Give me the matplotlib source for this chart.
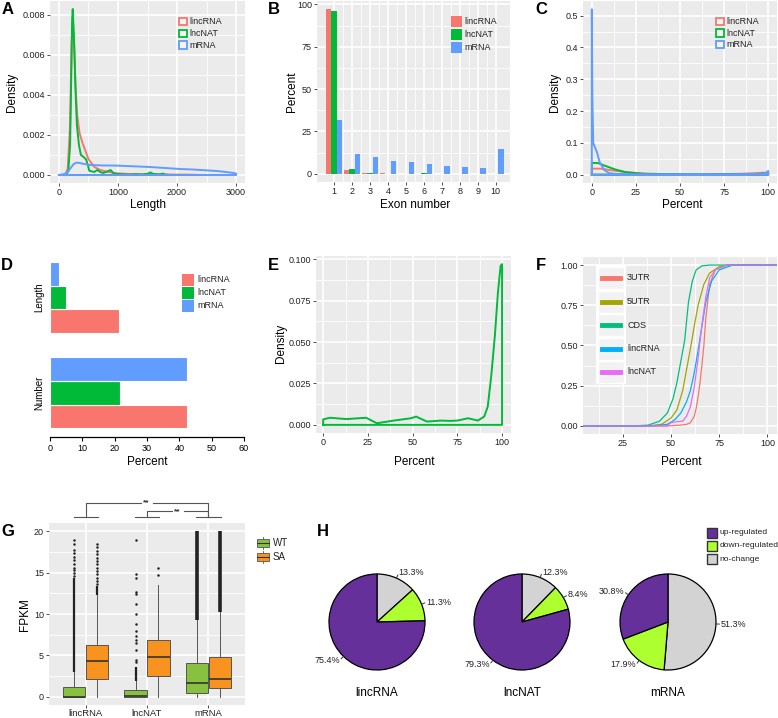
import matplotlib
matplotlib.use('Agg')
import matplotlib.pyplot as plt
import numpy as np
from matplotlib.patches import Rectangle
from matplotlib.lines import Line2D

plt.rcParams['font.family'] = ['Liberation Sans', 'DejaVu Sans']

# ---------------- data ----------------
rna_names = ['lincRNA', 'lncNAT', 'mRNA']
rna_colors = ['#F8766D', '#00BA38', '#619CFF']

# A: length density
a_linc_x = [100, 150, 190, 215, 235, 255, 280, 310, 350, 400, 450, 500, 600, 700, 800, 900, 1000, 1200, 1400, 1600, 1800, 2000, 2200, 2400]
a_linc_y = [0, 0.0003, 0.0025, 0.0065, 0.0079, 0.0068, 0.0045, 0.003, 0.0021, 0.0016, 0.0012, 0.0008, 0.0004, 0.00025, 0.00018, 0.00012, 0.00008, 0.00005, 0.00004, 0.00004, 0.00003, 0.00002, 0.00002, 0]
a_nat_x = [120, 160, 190, 210, 225, 235, 260, 285, 305, 340, 373, 420, 462, 490, 515, 560, 600, 650, 700, 750, 800, 875, 920, 960, 1000, 1100, 1200, 1300, 1400, 1500, 1550, 1600, 1700, 1760, 1800, 1850]
a_nat_y = [0, 0.0002, 0.0015, 0.005, 0.0078, 0.0083, 0.0065, 0.004, 0.0025, 0.0015, 0.001, 0.0009, 0.00077, 0.0005, 0.00021, 0.00018, 0.00015, 0.00025, 0.00015, 0.0001, 0.00015, 0.00025, 0.0001, 0.00005, 0.00005, 0.00003, 0.00002, 0.00004, 0.00002, 0.00006, 0.00013, 0.00005, 0.00003, 0.00007, 0.00002, 0]
a_mrna_x = [0, 100, 150, 200, 250, 300, 350, 400, 525, 700, 977, 1300, 1541, 2050, 2300, 2670, 2800, 2960, 3000]
a_mrna_y = [0, 0.00005, 0.00015, 0.00035, 0.00055, 0.00062, 0.0006, 0.00057, 0.0005, 0.00048, 0.00047, 0.00043, 0.0004, 0.0003, 0.00027, 0.0002, 0.00016, 0.0001, 0.00007]

# B: exon number distribution (percent)
exon_numbers = [1, 2, 3, 4, 5, 6, 7, 8, 9, 10]
b_linc = [97.2, 2.0, 0.7, 0.3, 0.1, 0.05, 0, 0, 0, 0]
b_nat = [96.3, 3.0, 0.3, 0.1, 0, 0.4, 0, 0, 0, 0]
b_mrna = [31.8, 11.7, 9.8, 7.7, 6.8, 5.8, 4.8, 3.8, 3.2, 14.4]

# C: percent density
c_linc_x = [0, 5.3, 10, 19.3, 28.7, 47, 66, 85, 100]
c_linc_y = [0.019, 0.019, 0.015, 0.008, 0.004, 0.001, 0.001, 0.003, 0.007]
c_nat_x = [0, 3.3, 8, 13.6, 19.3, 28.7, 38, 50, 70, 90, 100]
c_nat_y = [0.037, 0.037, 0.027, 0.016, 0.008, 0.003, 0.001, 0.0003, 0.0002, 0.001, 0.005]
c_mrna_x = [0, 0.3, 0.8, 1.7, 2.9, 4.4, 7.2, 10, 15, 20, 30, 50, 80, 95, 99, 100]
c_mrna_y = [0.52, 0.25, 0.1, 0.087, 0.071, 0.04, 0.014, 0.005, 0.002, 0.001, 0.0005, 0.0002, 0.0003, 0.002, 0.006, 0.012]

# D: share of lncRNA (percent)
d_groups = ['Number', 'Length']
d_linc = [42.5, 21.4]
d_nat = [21.8, 4.8]
d_mrna = [42.5, 2.9]

# E: percent density (lncNAT)
e_x = [0, 3.8, 13, 24, 30, 39.5, 49, 52, 58, 66, 71, 75, 81, 86.5, 90, 92, 94, 96, 97.7, 99.2, 100]
e_y = [0.0033, 0.0043, 0.0035, 0.0043, 0.001, 0.0026, 0.004, 0.005, 0.002, 0.0026, 0.0024, 0.0026, 0.004, 0.0026, 0.005, 0.011, 0.03, 0.054, 0.08, 0.096, 0.097]

# F: cumulative distributions
f_names = ['3UTR', '5UTR', 'CDS', 'lincRNA', 'lncNAT']
f_colors = ['#F8766D', '#A3A500', '#00BF7D', '#00B0F6', '#E76BF3']
f_utr3_x = [4, 48, 55, 58, 60, 62, 63, 64, 65, 66, 67, 68, 70, 73, 79, 105]
f_utr3_y = [0, 0, 0.005, 0.01, 0.02, 0.06, 0.11, 0.18, 0.27, 0.38, 0.5, 0.67, 0.88, 0.97, 1, 1]
f_utr5_x = [4, 38, 45, 50, 53, 56, 58, 60, 62, 64, 67, 70, 75, 80, 105]
f_utr5_y = [0, 0, 0.01, 0.05, 0.1, 0.22, 0.35, 0.48, 0.62, 0.75, 0.88, 0.95, 0.99, 1, 1]
f_cds_x = [4, 30, 38, 44, 48, 51, 53, 55, 57, 59, 61, 63, 66, 70, 105]
f_cds_y = [0, 0, 0.005, 0.03, 0.08, 0.17, 0.27, 0.4, 0.53, 0.77, 0.9, 0.97, 0.995, 1, 1]
f_linc_x = [4, 40, 48, 52, 55, 58, 60, 62, 64, 66, 68, 71, 75, 82, 105]
f_linc_y = [0, 0, 0.01, 0.04, 0.08, 0.15, 0.22, 0.33, 0.47, 0.62, 0.77, 0.9, 0.97, 1, 1]
f_nat_x = [4, 48, 50, 52, 56, 58, 60, 62, 64, 66, 68, 70, 73, 79, 105]
f_nat_y = [0, 0, 0.02, 0.025, 0.03, 0.06, 0.12, 0.24, 0.42, 0.63, 0.8, 0.92, 0.97, 1, 1]

# G: FPKM boxplots (WT / SA)
g_cats = ['lincRNA', 'lncNAT', 'mRNA']
g_wt_q1 = [0, 0, 0.5]
g_wt_med = [0.02, 0.05, 1.7]
g_wt_q3 = [1.2, 0.8, 4.05]
g_wt_hi = [3.0, 1.95, 9.3]
g_sa_q1 = [2.2, 2.5, 1.1]
g_sa_med = [4.3, 4.75, 2.2]
g_sa_q3 = [6.3, 6.9, 4.75]
g_sa_hi = [12.3, 13.5, 10.2]
g_wt_fliers = [[14.6, 15.0, 15.3, 15.6, 16.0, 16.5, 16.9, 17.4, 17.7, 18.5, 18.9],
               [4.2, 4.5, 5.7, 6.5, 6.9, 7.4, 7.9, 8.8, 10.0, 11.2, 12.4, 12.7, 14.3, 14.8, 18.9],
               []]
g_sa_fliers = [[13.6, 14.0, 14.4, 14.8, 15.2, 15.6, 16.0, 16.4, 16.8, 17.2, 17.6, 18.1, 18.5],
               [14.7, 15.6],
               []]
g_wt_dense = [(3.0, 14.3), (1.95, 3.6), (9.3, 20.0)]
g_sa_dense = [(12.3, 13.4), None, (10.2, 20.0)]

# H: regulation pies
h_cats = ['no-change', 'down-regulated', 'up-regulated']
h_colors = ['#D3D3D3', '#ADFF2F', '#66309A']
h_linc = [13.3, 11.3, 75.4]
h_nat = [12.3, 8.4, 79.3]
h_mrna = [51.3, 17.9, 30.8]

# ---------------- figure helpers ----------------
W, H = 778, 718
fig = plt.figure(figsize=(W / 100, H / 100), dpi=100)
TXT = '#222222'


def add_ax(l, t, r, b):
    return fig.add_axes([l / W, 1 - b / H, (r - l) / W, (b - t) / H])


def ftext(x, y, s, **kw):
    kw.setdefault('ha', 'center')
    kw.setdefault('va', 'center')
    kw.setdefault('color', 'black')
    fig.text(x / W, 1 - y / H, s, **kw)


def gg(ax, xmaj, xmin, ymaj, ymin):
    ax.set_facecolor('#EBEBEB')
    for s in ax.spines.values():
        s.set_visible(False)
    ax.set_xticks(xmaj)
    ax.set_xticks(xmin, minor=True)
    ax.set_yticks(ymaj)
    ax.set_yticks(ymin, minor=True)
    ax.grid(which='major', color='white', lw=1.2)
    ax.grid(which='minor', color='white', lw=0.6)
    ax.set_axisbelow(True)
    ax.tick_params(which='major', length=2.2, width=0.6, color='#333333',
                   labelsize=6.5, labelcolor=TXT, pad=1.5)
    ax.tick_params(which='minor', length=0)


def key_legend(x, y0, dy, size, tx, labels, colors, style, fs=6.5):
    for i, (lab, c) in enumerate(zip(labels, colors)):
        yc = y0 + i * dy
        if style == 'hollow':
            fc, ec, lw = '#F4F4F4', c, 1.3
        elif style == 'dark':
            fc, ec, lw = c, '#333333', 1.0
        else:
            fc, ec, lw = c, 'none', 0
        fig.patches.append(Rectangle((x / W, 1 - (yc + size / 2) / H), size / W, size / H,
                                     transform=fig.transFigure, facecolor=fc,
                                     edgecolor=ec, lw=lw))
        ftext(tx, yc, lab, ha='left', fontsize=fs, color=TXT)


def outline(ax, x, y, color, lw=1.4):
    xs = np.r_[x[0], x, x[-1], x[0]]
    ys = np.r_[0, y, 0, 0]
    ax.plot(xs, ys, color=color, lw=lw, solid_joinstyle='round')


# ---------------- A ----------------
ax = add_ax(50, 1, 245, 183)
gg(ax, [0, 1000, 2000, 3000], [500, 1500, 2500],
   [0, 0.002, 0.004, 0.006, 0.008], [0.001, 0.003, 0.005, 0.007])
ax.set_yticklabels(['0.000', '0.002', '0.004', '0.006', '0.008'])
outline(ax, a_linc_x, a_linc_y, rna_colors[0])
outline(ax, a_nat_x, a_nat_y, rna_colors[1])
outline(ax, a_mrna_x, a_mrna_y, rna_colors[2])
ax.set_xlim(-150, 3150)
ax.set_ylim(-0.0004, 0.0087)
key_legend(179, 21.7, 11.7, 7.5, 189, rna_names, rna_colors, 'hollow')
ftext(148, 205, 'Length', fontsize=8.5)
ftext(12, 92, 'Density', fontsize=8.5, rotation=90)

# ---------------- B ----------------
ax = add_ax(317, 1, 510, 182)
gg(ax, exon_numbers, [1.5, 2.5, 3.5, 4.5, 5.5, 6.5, 7.5, 8.5, 9.5],
   [0, 25, 50, 75, 100], [12.5, 37.5, 62.5, 87.5])
ex = np.array(exon_numbers)
for vals, off, c in zip([b_linc, b_nat, b_mrna], [-0.3, 0, 0.3], rna_colors):
    ax.bar(ex + off, vals, width=0.3, color=c, zorder=2)
ax.set_xlim(0.05, 10.8)
ax.set_ylim(-4.9, 102)
key_legend(451, 21.7, 12.7, 11, 464, rna_names, rna_colors, 'fill')
ftext(415, 205, 'Exon number', fontsize=8.5)
ftext(292, 92, 'Percent', fontsize=8.5, rotation=90)

# ---------------- C ----------------
ax = add_ax(583, 1, 777, 183)
gg(ax, [0, 25, 50, 75, 100], [12.5, 37.5, 62.5, 87.5],
   [0, 0.1, 0.2, 0.3, 0.4, 0.5], [0.05, 0.15, 0.25, 0.35, 0.45])
ax.set_yticklabels(['0.0', '0.1', '0.2', '0.3', '0.4', '0.5'])
outline(ax, c_linc_x, c_linc_y, rna_colors[0])
outline(ax, c_nat_x, c_nat_y, rna_colors[1])
outline(ax, c_mrna_x, c_mrna_y, rna_colors[2])
ax.set_xlim(-5, 105)
ax.set_ylim(-0.026, 0.546)
key_legend(716, 21.7, 11.4, 7.5, 726, rna_names, rna_colors, 'hollow')
ftext(682, 205, 'Percent', fontsize=8.5)
ftext(555, 92, 'Density', fontsize=8.5, rotation=90)

# ---------------- D ----------------
ax = add_ax(50, 250, 244, 437)
ypos = np.arange(1, len(d_groups) + 1)
for vals, off, c in zip([d_linc, d_nat, d_mrna], [-0.25, 0, 0.25], rna_colors):
    ax.barh(ypos + off, vals, height=0.25, color=c, edgecolor='white', lw=0.8)
for s in ['top', 'right', 'left']:
    ax.spines[s].set_visible(False)
ax.spines['bottom'].set_linewidth(0.9)
ax.set_xlim(0, 60)
ax.set_ylim(0.535, 2.5)
ax.set_xticks([0, 10, 20, 30, 40, 50, 60])
ax.set_yticks(ypos)
ax.set_yticklabels(d_groups, rotation=90, va='center', fontsize=7)
ax.tick_params(axis='y', length=0, pad=4)
ax.tick_params(axis='x', length=3, width=0.8, labelsize=6.5, pad=2)
key_legend(182, 280, 12.9, 11.5, 197, rna_names, rna_colors, 'fill')
ftext(147, 462, 'Percent', fontsize=8.5)

# ---------------- E ----------------
ax = add_ax(316, 256, 511, 433)
gg(ax, [0, 25, 50, 75, 100], [12.5, 37.5, 62.5, 87.5],
   [0, 0.025, 0.05, 0.075, 0.1], [0.0125, 0.0375, 0.0625, 0.0875])
ax.set_yticklabels(['0.000', '0.025', '0.050', '0.075', '0.100'])
outline(ax, e_x, e_y, rna_colors[1])
ax.set_xlim(-4, 105)
ax.set_ylim(-0.0049, 0.1019)
ftext(414, 462, 'Percent', fontsize=8.5)
ftext(281, 343, 'Density', fontsize=8.5, rotation=90)

# ---------------- F ----------------
ax = add_ax(583, 257, 777, 434)
gg(ax, [25, 50, 75, 100], [12.5, 37.5, 62.5, 87.5],
   [0, 0.25, 0.5, 0.75, 1.0], [0.125, 0.375, 0.625, 0.875])
ax.set_yticklabels(['0.00', '0.25', '0.50', '0.75', '1.00'])
f_x = [f_utr3_x, f_utr5_x, f_cds_x, f_linc_x, f_nat_x]
f_y = [f_utr3_y, f_utr5_y, f_cds_y, f_linc_y, f_nat_y]
for xs, ys, c in zip(f_x, f_y, f_colors):
    ax.plot(xs, ys, color=c, lw=0.9)
ax.set_xlim(4.2, 105)
ax.set_ylim(-0.05, 1.05)
fig.patches.append(Rectangle((596 / W, 1 - 384 / H), 30 / W, 119 / H,
                             transform=fig.transFigure, facecolor='white',
                             edgecolor='none'))
for i, (lab, c) in enumerate(zip(f_names, f_colors)):
    yc = 278 + i * 23.5
    fig.patches.append(Rectangle((598 / W, 1 - (yc + 11) / H), 26 / W, 22 / H,
                                 transform=fig.transFigure, facecolor='#F2F2F2',
                                 edgecolor='white', lw=1.0))
    fig.lines.append(Line2D([602 / W, 620 / W], [1 - yc / H, 1 - yc / H],
                            transform=fig.transFigure, color=c, lw=3.5))
    ftext(627, yc, lab, ha='left', fontsize=6.5, color=TXT)
ftext(681, 462, 'Percent', fontsize=8.5)

# ---------------- G ----------------
ax = add_ax(49, 523, 245, 705)
gg(ax, [1, 2, 3], [], [0, 5, 10, 15, 20], [2.5, 7.5, 12.5, 17.5])
ax.set_xticklabels(g_cats, fontsize=6.8)
ax.tick_params(axis='x', pad=0.8)
g_wt_color, g_sa_color = '#88C040', '#F7931E'
stats, pos, fcs = [], [], []
for i in range(3):
    stats.append(dict(q1=g_wt_q1[i], med=g_wt_med[i], q3=g_wt_q3[i], whislo=0,
                      whishi=g_wt_hi[i], fliers=g_wt_fliers[i]))
    stats.append(dict(q1=g_sa_q1[i], med=g_sa_med[i], q3=g_sa_q3[i], whislo=0,
                      whishi=g_sa_hi[i], fliers=g_sa_fliers[i]))
    pos += [i + 1 - 0.1875, i + 1 + 0.1875]
    fcs += [g_wt_color, g_sa_color]
bp = ax.bxp(stats, positions=pos, widths=0.36, patch_artist=True, showcaps=False,
            boxprops=dict(edgecolor='#555555', lw=0.7),
            medianprops=dict(color='#333333', lw=1.2),
            whiskerprops=dict(color='#555555', lw=0.7),
            flierprops=dict(marker='o', markersize=1.8, markerfacecolor='#222222',
                            markeredgewidth=0), manage_ticks=False)
for patch, fc in zip(bp['boxes'], fcs):
    patch.set_facecolor(fc)
# very dense outlier runs, drawn as a solid column of points
for i in range(3):
    for rng, p in [(g_wt_dense[i], pos[2 * i]), (g_sa_dense[i], pos[2 * i + 1])]:
        if rng is not None:
            ax.vlines(p, rng[0], rng[1], color='#222222',
                      lw=2.6 if i == 2 else 1.6, zorder=3)
ax.set_xlim(0.4, 3.6)
ax.set_ylim(-1, 21)
# significance brackets
bc = '#555555'
for c in [1, 2, 3]:
    ax.plot([c - 0.2, c + 0.2], [21.7, 21.7], color=bc, lw=0.8, clip_on=False)
for (a, b, yt) in [(1, 3, 23.4), (2, 3, 22.4)]:
    m = (a + b) / 2
    ax.plot([a, a, m - 0.1], [21.7, yt, yt], color=bc, lw=0.8, clip_on=False)
    ax.plot([m + 0.1, b, b], [yt, yt, 21.7], color=bc, lw=0.8, clip_on=False)
    ax.text(m - 0.01, yt, '**', ha='center', va='center', fontsize=6, color='#333333',
            fontweight='bold')
ftext(25, 615, 'FPKM', fontsize=8.5, rotation=90)
for i, (lab, c) in enumerate(zip(['WT', 'SA'], [g_wt_color, g_sa_color])):
    yc = 543 + i * 14
    fig.patches.append(Rectangle((257 / W, 1 - (yc + 4) / H), 12 / W, 8 / H,
                                 transform=fig.transFigure, facecolor=c,
                                 edgecolor='#555555', lw=0.6))
    fig.lines.append(Line2D([257 / W, 269 / W], [1 - yc / H, 1 - yc / H],
                            transform=fig.transFigure, color='#333333', lw=0.8))
    fig.lines.append(Line2D([263 / W, 263 / W], [1 - (yc - 6) / H, 1 - (yc + 6) / H],
                            transform=fig.transFigure, color='#555555', lw=0.6, zorder=0))
    ftext(273, yc, lab, ha='left', fontsize=7, color=TXT)

# ---------------- H ----------------
r = 48
for cx, vals, name in zip([377, 522, 668], [h_linc, h_nat, h_mrna], ['lincRNA', 'lncNAT', 'mRNA']):
    pax = add_ax(cx - r, 622 - r, cx + r, 622 + r)
    wedges, _ = pax.pie(vals, colors=h_colors, startangle=90, counterclock=False,
                        wedgeprops=dict(edgecolor='black', lw=0.9), radius=1)
    pax.set_xlim(-1, 1)
    pax.set_ylim(-1, 1)
    pax.set_aspect('equal')
    pax.axis('off')
    for wdg, v in zip(wedges, vals):
        ang = np.deg2rad((wdg.theta1 + wdg.theta2) / 2)
        dx, dy = np.cos(ang), np.sin(ang)
        pax.plot([dx, 1.07 * dx], [dy, 1.07 * dy], color='#333333', lw=0.7, clip_on=False)
        pax.text(1.1 * dx, 1.12 * dy, '%.1f%%' % v, ha='left' if dx > 0 else 'right',
                 va='center', fontsize=6.5, color=TXT, clip_on=False)
    ftext(cx, 693, name, fontsize=8.5)
key_legend(707, 532.7, 13.2, 10, 719.5, ['up-regulated', 'down-regulated', 'no-change'],
           [h_colors[2], h_colors[1], h_colors[0]], 'dark', fs=6.1)

# ---------------- panel letters ----------------
for lab, x, y in [('A', 8, 10), ('B', 274, 9), ('C', 541, 10), ('D', 7, 266),
                  ('E', 273, 266), ('F', 541, 266), ('G', 8, 532), ('H', 323, 532)]:
    ftext(x, y, lab, fontsize=12, fontweight='bold')

fig.savefig('out.png', dpi=100)
